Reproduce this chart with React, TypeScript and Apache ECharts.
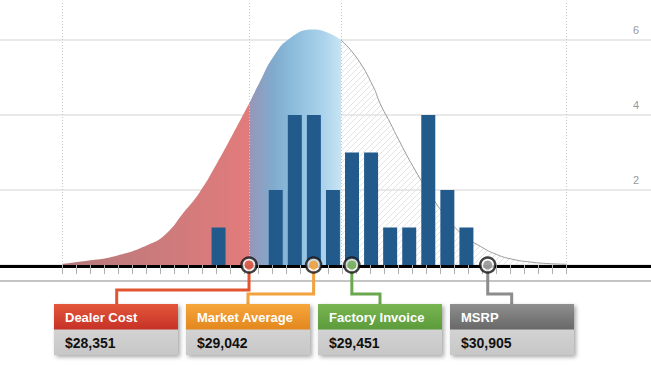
import React, { useEffect, useRef } from "react";
import * as echarts from "echarts";

// ---- data ----
const curveX = [26350, 26575, 26935, 27290, 27470, 27645, 27825, 28005, 28180, 28351, 28470, 28610, 28790, 29035, 29220, 29335, 29505, 29680, 29755, 29860, 29930, 30105, 30290, 30465, 30640, 30825, 31000, 31175, 31360, 31535, 31750];
const curveY = [0.03, 0.1, 0.25, 0.56, 0.85, 1.38, 1.95, 2.7, 3.5, 4.3, 4.9, 5.55, 6.05, 6.28, 6.17, 6.0, 5.52, 4.76, 4.3, 3.8, 3.45, 2.63, 1.88, 1.27, 0.8, 0.5, 0.28, 0.15, 0.08, 0.04, 0.02];
const binCenters = [28025, 28637, 28841, 29045, 29249, 29453, 29657, 29861, 30065, 30269, 30473, 30677];
const binCounts = [1, 2, 4, 4, 2, 3, 3, 1, 1, 4, 2, 1];
const priceLabels = ["Dealer Cost", "Market Average", "Factory Invoice", "MSRP"];
const priceValues = [28351, 29042, 29451, 30905];
const priceText = ["$28,351", "$29,042", "$29,451", "$30,905"];
const bandEdge = 29335;
const xMin = 26350;
const xMax = 31750;
const tickStep = 150;
const yMaxLabel = 6;
const yStep = 2;

// ---- styles ----
const markerColors = ["#d33f2a", "#f0982a", "#69a946", "#8a8a8a"];
const connectorColors = ["#e0552f", "#f2a23c", "#6aa84f", "#8c8c8c"];
const headerTop = ["#e3573b", "#f6a63c", "#79b653", "#8f8f8f"];
const headerBottom = ["#c63126", "#e3871e", "#5c9b3b", "#686868"];
const anchorX = [116.7, 248, 380, 511.7];
const hLineY = [290, 294, 294, 294];

function makeHatch() {
  const c = document.createElement("canvas");
  c.width = 6;
  c.height = 6;
  const ctx = c.getContext("2d")!;
  ctx.strokeStyle = "#e3e3e3";
  ctx.lineWidth = 1;
  ctx.beginPath();
  ctx.moveTo(0, 6);
  ctx.lineTo(6, 0);
  ctx.moveTo(-3, 3);
  ctx.lineTo(3, -3);
  ctx.moveTo(3, 9);
  ctx.lineTo(9, 3);
  ctx.stroke();
  return c;
}

export default function App() {
  const ref = useRef<HTMLDivElement>(null);
  useEffect(() => {
    document.body.style.margin = "0";
    const chart = echarts.init(ref.current!, undefined, { renderer: "svg" });
    const pts = curveX.map((x, i) => [x, curveY[i]]);
    const left = pts.filter((p) => p[0] <= priceValues[0]);
    const mid = pts.filter((p) => p[0] >= priceValues[0] && p[0] <= bandEdge);
    const right = pts.filter((p) => p[0] >= bandEdge);
    const font = "'Liberation Sans', Arial, sans-serif";

    const option: any = {
      animation: false,
      grid: [
        { left: 0, right: 0, top: 40, bottom: 102 },
        { left: 62, right: 84.3, top: 2.5, bottom: 102 },
      ],
      xAxis: [
        {
          gridIndex: 0, type: "value", min: 0, max: 1, offset: 1.5,
          axisLine: { show: true, onZero: false, lineStyle: { color: "#000", width: 3 } },
          axisTick: { show: false }, axisLabel: { show: false }, splitLine: { show: false },
        },
        {
          gridIndex: 1, type: "value", min: xMin, max: xMax, interval: tickStep,
          axisLine: { show: false, onZero: false },
          axisTick: { show: true, length: 9, lineStyle: { color: "#b0b0b0", width: 1 } },
          axisLabel: { show: false }, splitLine: { show: false },
        },
      ],
      yAxis: [
        {
          gridIndex: 0, type: "value", min: 0, max: yMaxLabel, interval: yStep, position: "right",
          axisLine: { show: false }, axisTick: { show: false },
          splitLine: { show: true, lineStyle: { color: "#e9e9e9", width: 2 } },
          axisLabel: {
            inside: true, margin: 12, color: "#9a9a9a", fontSize: 11, fontFamily: font,
            verticalAlign: "bottom", padding: [0, 0, 5, 0],
            formatter: (v: number) => (v === 0 ? "" : String(v)),
          },
        },
        { gridIndex: 1, type: "value", min: 0, max: 7, show: false },
      ],
      series: [
        {
          type: "line", xAxisIndex: 1, yAxisIndex: 1, data: left, smooth: true, symbol: "none", z: 1,
          lineStyle: { width: 0, opacity: 0 },
          areaStyle: {
            opacity: 1,
            color: new echarts.graphic.LinearGradient(0, 0, 1, 0, [
              { offset: 0, color: "#b47a7c" },
              { offset: 1, color: "#e27b7b" },
            ]),
          },
        },
        {
          type: "line", xAxisIndex: 1, yAxisIndex: 1, data: mid, smooth: true, symbol: "none", z: 1,
          lineStyle: { width: 0, opacity: 0 },
          areaStyle: {
            opacity: 1,
            color: new echarts.graphic.LinearGradient(0, 0, 1, 0, [
              { offset: 0, color: "#9896b8" },
              { offset: 0.26, color: "#80aacd" },
              { offset: 0.48, color: "#8cbcdc" },
              { offset: 0.8, color: "#aad2eb" },
              { offset: 1, color: "#c8e4f3" },
            ]),
          },
        },
        {
          type: "line", xAxisIndex: 1, yAxisIndex: 1, data: right, smooth: true, symbol: "none", z: 1,
          lineStyle: { width: 1, color: "#9a9a9a" },
          areaStyle: { opacity: 1, color: { image: makeHatch(), repeat: "repeat" } },
          markLine: {
            silent: true, symbol: ["none", "none"], label: { show: false },
            lineStyle: { type: [1, 2], color: "#c6c6c6", width: 1 },
            data: [xMin, priceValues[0], bandEdge, xMax].map((v) => ({ xAxis: v })),
          },
        },
        {
          type: "bar", xAxisIndex: 1, yAxisIndex: 1, barWidth: 14, z: 3,
          data: binCenters.map((x, i) => [x, binCounts[i]]),
          itemStyle: { color: "#235a8c" },
        },
        {
          type: "scatter", xAxisIndex: 1, yAxisIndex: 1, clip: false, z: 5, symbolSize: 15,
          data: priceValues.map((v) => [v, 0]),
          itemStyle: { color: "#fff", borderColor: "#111", borderWidth: 2.5 },
        },
        {
          type: "scatter", xAxisIndex: 1, yAxisIndex: 1, clip: false, z: 6, symbolSize: 9,
          data: priceValues.map((v, i) => ({ value: [v, 0], itemStyle: { color: markerColors[i] } })),
        },
      ],
    };
    chart.setOption(option);

    const els: any[] = [
      { type: "line", shape: { x1: 0, y1: 281, x2: 651, y2: 281 }, style: { stroke: "#c4c4c4", lineWidth: 2 }, z: 1 },
    ];
    priceValues.forEach((v, i) => {
      const mx = chart.convertToPixel({ xAxisIndex: 1 }, v) as number;
      els.push({
        type: "polyline", z: 1,
        shape: { points: [[mx, 268], [mx, hLineY[i]], [anchorX[i], hLineY[i]], [anchorX[i], 305]] },
        style: { stroke: connectorColors[i], lineWidth: 3, fill: null },
      });
      const x0 = 54 + i * 132;
      els.push({
        type: "rect", z: 2, shape: { x: x0, y: 304, width: 124, height: 51 },
        style: { fill: "#cccccc", shadowBlur: 4, shadowOffsetX: 2, shadowOffsetY: 2, shadowColor: "rgba(0,0,0,0.35)" },
      });
      els.push({
        type: "rect", z: 3, shape: { x: x0, y: 329.5, width: 124, height: 25.5 },
        style: {
          fill: new echarts.graphic.LinearGradient(0, 0, 0, 1, [
            { offset: 0, color: "#d3d3d3" },
            { offset: 1, color: "#c7c7c7" },
          ]),
        },
      });
      els.push({
        type: "rect", z: 3, shape: { x: x0, y: 304, width: 124, height: 25.5 },
        style: {
          fill: new echarts.graphic.LinearGradient(0, 0, 0, 1, [
            { offset: 0, color: headerTop[i] },
            { offset: 1, color: headerBottom[i] },
          ]),
        },
      });
      els.push({
        type: "text", z: 4, x: x0 + 11, y: 317,
        style: { text: priceLabels[i], fill: "#fff", font: `bold 13px ${font}`, verticalAlign: "middle", align: "left" },
      });
      els.push({
        type: "text", z: 4, x: x0 + 11, y: 343,
        style: { text: priceText[i], fill: "#111", font: `bold 14px ${font}`, verticalAlign: "middle", align: "left" },
      });
    });
    chart.setOption({ graphic: { elements: els } });

    return () => chart.dispose();
  }, []);
  return <div ref={ref} style={{ width: 651, height: 367 }} />;
}
